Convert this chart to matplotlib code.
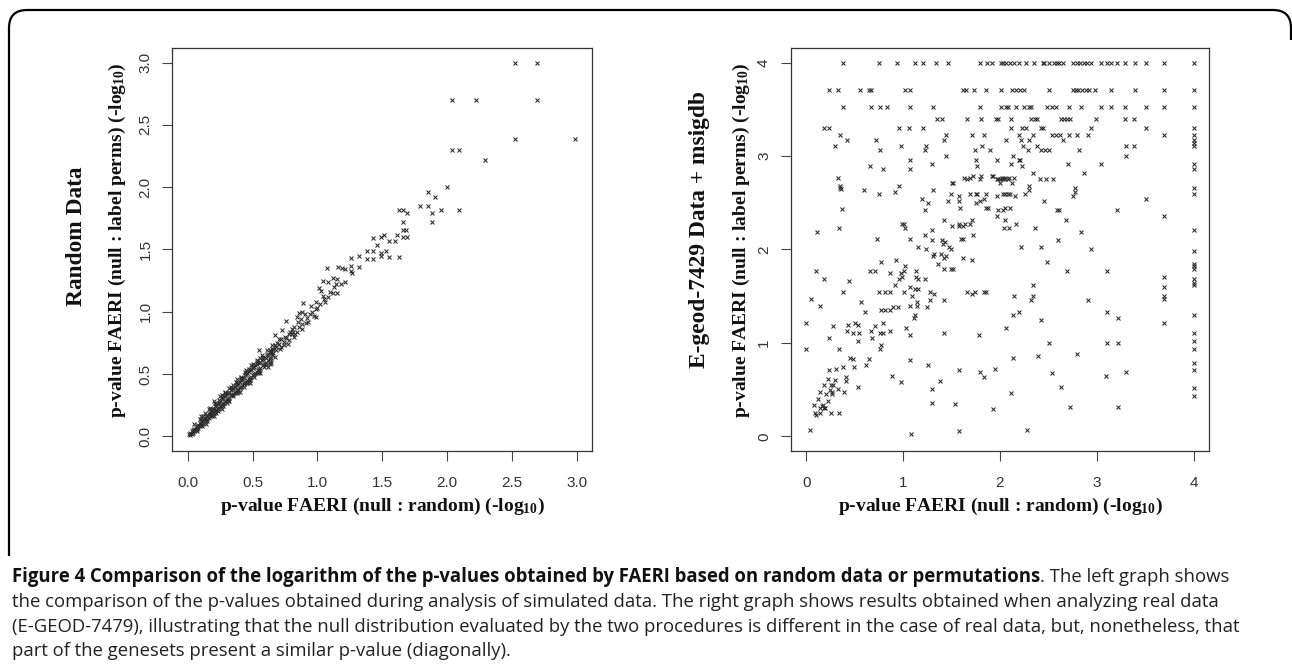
import matplotlib
matplotlib.use('Agg')
import matplotlib.pyplot as plt
from matplotlib.path import Path
from matplotlib.patches import PathPatch
from matplotlib.transforms import Affine2D

W, H = 1292, 668

# mathtext subscripts in the same bold serif as the labels
plt.rcParams['mathtext.fontset'] = 'custom'
plt.rcParams['mathtext.rm'] = 'Liberation Serif:bold'
plt.rcParams['mathtext.it'] = 'Liberation Serif:bold'
plt.rcParams['mathtext.bf'] = 'Liberation Serif:bold'

TICK_FONT = ['Liberation Sans', 'DejaVu Sans']
LABEL_FONT = ['Liberation Serif', 'DejaVu Serif']
CAP_FONT = ['Open Sans', 'DejaVu Sans']

# ---------------- left panel : random data ----------------
left_ticks = [0.0, 0.5, 1.0, 1.5, 2.0, 2.5, 3.0]

# sparse upper part (x, y)
left_sparse = [
    (2.52, 3.00), (2.69, 3.00), (2.04, 2.70), (2.22, 2.70), (2.69, 2.70),
    (2.52, 2.39), (2.99, 2.39), (2.04, 2.30), (2.09, 2.30), (2.29, 2.22),
    (2.00, 2.00), (1.85, 1.96), (1.91, 1.92), (1.79, 1.85), (1.85, 1.85),
    (1.95, 1.82), (2.09, 1.82), (1.63, 1.82), (1.66, 1.82), (1.69, 1.79),
    (1.88, 1.79), (1.66, 1.72), (1.88, 1.72), (1.66, 1.66), (1.68, 1.66),
    (1.66, 1.60), (1.69, 1.60), (1.61, 1.62), (1.43, 1.59), (1.49, 1.60),
    (1.51, 1.62), (1.55, 1.57), (1.60, 1.57), (1.46, 1.54), (1.38, 1.49),
    (1.43, 1.49), (1.38, 1.42), (1.43, 1.42), (1.49, 1.47), (1.53, 1.49),
    (1.55, 1.44), (1.26, 1.43), (1.32, 1.45), (1.63, 1.44), (1.49, 1.45),
    (1.07, 1.35), (1.16, 1.36), (1.19, 1.35), (1.21, 1.34), (1.26, 1.37),
    (1.26, 1.33), (1.27, 1.31), (1.32, 1.36), (1.04, 1.25), (1.08, 1.24),
    (1.12, 1.27), (1.14, 1.22), (1.15, 1.26), (1.21, 1.24), (1.03, 1.17),
    (1.01, 1.19), (1.04, 1.13), (0.99, 1.08), (1.08, 1.12), (1.12, 1.15),
    (1.15, 1.15), (1.06, 1.08), (0.99, 1.02), (0.99, 0.96), (0.89, 1.07),
    (0.95, 1.05), (0.76, 0.93), (0.84, 0.96), (0.86, 0.99), (0.88, 1.00),
    (0.90, 0.98), (0.92, 0.95), (0.91, 0.91), (0.88, 0.90), (0.85, 0.92),
    (0.87, 0.94), (0.82, 0.88), (0.93, 0.92), (0.67, 0.81), (0.73, 0.85),
    (0.76, 0.79), (0.63, 0.69), (0.55, 0.69), (0.63, 0.58), (0.80, 0.86),
    (0.78, 0.82), (0.72, 0.78), (0.70, 0.74), (0.68, 0.72), (0.74, 0.76),
    (0.77, 0.74), (0.82, 0.80), (0.84, 0.84), (0.80, 0.82), (0.71, 0.70),
    (0.66, 0.70), (0.64, 0.67), (0.70, 0.78), (0.72, 0.72), (0.75, 0.80),
    (0.78, 0.77), (0.81, 0.84), (0.83, 0.82), (0.86, 0.88), (0.88, 0.86),
    (0.94, 0.98), (0.96, 1.00), (1.00, 1.03), (1.02, 1.06), (1.05, 1.10),
    (1.10, 1.16), (1.13, 1.20), (1.18, 1.22), (0.79, 0.84), (0.74, 0.73),
    (0.69, 0.75), (0.97, 0.97),
]

# dense band near the diagonal (x, y)
left_band = [
    (0.01, 0.02), (0.02, 0.01), (0.02, 0.03), (0.03, 0.02), (0.03, 0.04),
    (0.04, 0.03), (0.04, 0.05), (0.05, 0.04), (0.05, 0.06), (0.06, 0.05),
    (0.06, 0.07), (0.07, 0.06), (0.07, 0.08), (0.08, 0.07), (0.08, 0.09),
    (0.09, 0.08), (0.09, 0.11), (0.10, 0.09), (0.10, 0.12), (0.11, 0.10),
    (0.11, 0.13), (0.12, 0.11), (0.12, 0.14), (0.13, 0.12), (0.13, 0.15),
    (0.14, 0.13), (0.14, 0.16), (0.15, 0.14), (0.15, 0.17), (0.16, 0.15),
    (0.16, 0.18), (0.17, 0.16), (0.17, 0.19), (0.18, 0.17), (0.18, 0.20),
    (0.19, 0.18), (0.19, 0.21), (0.20, 0.19), (0.20, 0.22), (0.21, 0.20),
    (0.21, 0.24), (0.22, 0.21), (0.22, 0.25), (0.23, 0.22), (0.23, 0.26),
    (0.24, 0.23), (0.24, 0.27), (0.25, 0.24), (0.25, 0.28), (0.26, 0.25),
    (0.26, 0.30), (0.27, 0.26), (0.27, 0.31), (0.28, 0.27), (0.28, 0.32),
    (0.29, 0.28), (0.29, 0.33), (0.30, 0.29), (0.30, 0.34), (0.31, 0.30),
    (0.31, 0.35), (0.32, 0.31), (0.32, 0.36), (0.33, 0.33), (0.33, 0.37),
    (0.34, 0.33), (0.34, 0.38), (0.35, 0.34), (0.35, 0.39), (0.36, 0.35),
    (0.36, 0.40), (0.37, 0.36), (0.37, 0.41), (0.38, 0.37), (0.38, 0.42),
    (0.39, 0.38), (0.39, 0.43), (0.40, 0.39), (0.40, 0.44), (0.41, 0.40),
    (0.41, 0.45), (0.42, 0.41), (0.42, 0.46), (0.43, 0.42), (0.43, 0.47),
    (0.44, 0.43), (0.44, 0.49), (0.45, 0.44), (0.45, 0.50), (0.46, 0.45),
    (0.46, 0.51), (0.47, 0.46), (0.47, 0.52), (0.48, 0.47), (0.48, 0.53),
    (0.49, 0.48), (0.49, 0.54), (0.50, 0.49), (0.50, 0.55), (0.51, 0.50),
    (0.51, 0.56), (0.52, 0.51), (0.52, 0.57), (0.53, 0.52), (0.53, 0.58),
    (0.54, 0.53), (0.55, 0.59), (0.55, 0.54), (0.56, 0.60), (0.56, 0.55),
    (0.57, 0.61), (0.58, 0.57), (0.58, 0.62), (0.59, 0.58), (0.60, 0.63),
    (0.60, 0.59), (0.61, 0.65), (0.62, 0.61), (0.62, 0.66), (0.63, 0.62),
    (0.64, 0.68), (0.64, 0.63), (0.65, 0.70), (0.65, 0.65), (0.66, 0.67),
    (0.67, 0.73), (0.68, 0.69), (0.12, 0.16), (0.18, 0.22), (0.24, 0.29),
    (0.29, 0.35), (0.35, 0.41), (0.41, 0.47), (0.47, 0.54), (0.53, 0.60),
    (0.58, 0.64), (0.22, 0.19), (0.30, 0.27), (0.38, 0.35), (0.46, 0.43),
    (0.54, 0.51), (0.60, 0.57), (0.62, 0.56), (0.48, 0.45),
    (0.05, 0.10), (0.09, 0.14), (0.13, 0.19), (0.17, 0.23), (0.21, 0.27),
    (0.25, 0.32), (0.29, 0.36), (0.33, 0.40), (0.37, 0.44), (0.41, 0.48),
    (0.45, 0.53), (0.49, 0.57), (0.53, 0.61), (0.57, 0.65), (0.61, 0.69),
    (0.65, 0.73), (0.07, 0.04), (0.11, 0.08), (0.15, 0.12), (0.19, 0.16),
    (0.23, 0.20), (0.27, 0.24), (0.31, 0.28), (0.35, 0.32), (0.39, 0.36),
    (0.43, 0.40), (0.47, 0.44), (0.51, 0.48), (0.55, 0.52), (0.59, 0.56),
    (0.63, 0.60), (0.67, 0.64), (0.10, 0.16), (0.16, 0.22), (0.20, 0.28),
    (0.26, 0.33), (0.32, 0.39), (0.38, 0.46), (0.44, 0.52), (0.50, 0.58),
    (0.56, 0.63), (0.14, 0.10), (0.20, 0.16), (0.26, 0.22), (0.32, 0.28),
    (0.40, 0.36), (0.48, 0.43), (0.56, 0.51), (0.64, 0.59),
]

# ---------------- right panel : E-geod-7429 ----------------
right_ticks = [0, 1, 2, 3, 4]

# discrete saturated levels of the permutation p-value
row_400_x = [0.38, 0.75, 0.94, 1.12, 1.21, 1.34, 1.46, 1.79, 1.87, 1.92, 2.01, 2.03,
             2.06, 2.10, 2.14, 2.20, 2.27, 2.35, 2.44, 2.45, 2.51, 2.56, 2.59, 2.61,
             2.65, 2.75, 2.79, 2.83, 2.87, 2.90, 2.94, 3.04, 3.10, 3.15, 3.21, 3.29,
             3.39, 3.51, 3.69, 4.00]
row_371_x = [0.24, 0.33, 0.56, 0.65, 0.67, 1.02, 1.07, 1.62, 1.65, 1.73, 1.86, 2.01,
             2.12, 2.17, 2.21, 2.25, 2.51, 2.75, 2.78, 2.81, 2.85, 2.89, 2.92, 2.98,
             3.15, 3.39, 3.69, 4.00]
row_352_x = [0.38, 0.67, 0.76, 0.83, 1.07, 1.31, 1.79, 2.01, 2.06, 2.08, 2.17, 2.25,
             2.30, 2.32, 2.49, 2.54, 2.58, 2.71, 2.84, 3.04, 3.15, 3.29, 3.51, 3.69, 4.00]
row_340_x = [1.35, 1.40, 1.66, 1.80, 1.96, 1.98, 2.11, 2.32, 2.36, 2.38, 2.63, 2.66,
             2.69, 2.72, 2.99, 3.29, 3.38]
row_330_x = [0.18, 0.24, 0.96, 1.06, 1.21, 2.11, 2.23, 2.27, 2.42, 2.44, 2.94, 3.51, 4.00]
level_y = [4.00, 3.71, 3.52, 3.40, 3.30]

# saturated column of the random-data p-value
col_400_y = [3.23, 3.17, 3.14, 3.11, 2.92, 2.86, 2.66, 2.59, 2.21, 1.98, 1.84, 1.82,
             1.79, 1.68, 1.64, 1.62, 1.30, 1.11, 1.02, 0.93, 0.78, 0.71, 0.52, 0.43]
col_369_y = [3.23, 2.36, 1.71, 1.60, 1.50, 1.47, 1.21]

# remaining scattered genesets (x, y)
right_pts = [
    (0.35, 3.23), (1.44, 3.23), (1.71, 3.23), (1.83, 3.23), (2.20, 3.23), (2.34, 3.23),
    (2.54, 3.23), (2.58, 3.23), (2.62, 3.23), (2.71, 3.23), (2.79, 3.23), (2.91, 3.23),
    (0.42, 3.17), (0.72, 3.17), (1.42, 3.17), (2.06, 3.17), (2.22, 3.17), (2.30, 3.17),
    (2.65, 3.17), (0.30, 3.11), (0.98, 3.11), (1.24, 3.11), (1.81, 3.11), (2.24, 3.11),
    (2.38, 3.11), (3.30, 3.11), (3.38, 3.11), (0.76, 3.06), (1.23, 3.06), (1.74, 3.06),
    (1.90, 3.06), (2.29, 3.06), (2.42, 3.06), (2.46, 3.06), (2.51, 3.06), (2.82, 3.06),
    (1.44, 3.00), (2.13, 3.00), (3.30, 3.00), (1.07, 2.96), (1.75, 2.96), (1.97, 2.96),
    (2.20, 2.96), (2.21, 2.96), (1.30, 2.92), (2.11, 2.92), (2.70, 2.92), (3.04, 2.92),
    (0.66, 2.89), (1.76, 2.89), (2.23, 2.89), (0.79, 2.86), (1.07, 2.86), (2.34, 2.82),
    (2.87, 2.82), (1.72, 2.79), (1.80, 2.79), (1.92, 2.79), (1.93, 2.79), (0.33, 2.77),
    (1.63, 2.77), (1.69, 2.77), (2.02, 2.77), (2.04, 2.77), (2.09, 2.77), (2.14, 2.77),
    (1.66, 2.75), (1.79, 2.75), (1.97, 2.75), (1.98, 2.75), (2.00, 2.75), (2.03, 2.75),
    (2.05, 2.75), (2.08, 2.75), (2.41, 2.75), (2.47, 2.75), (2.55, 2.75), (1.50, 2.71),
    (1.52, 2.71), (2.00, 2.71), (2.12, 2.71), (0.35, 2.68), (0.96, 2.68), (2.30, 2.68),
    (0.35, 2.66), (0.36, 2.65), (2.77, 2.66), (0.60, 2.64), (1.31, 2.64), (2.30, 2.64),
    (0.92, 2.62), (2.77, 2.62), (0.75, 2.59), (1.49, 2.59), (1.69, 2.59), (1.75, 2.59),
    (1.76, 2.59), (1.86, 2.59), (2.03, 2.59), (2.05, 2.59), (2.08, 2.59), (2.10, 2.59),
    (2.26, 2.59), (1.58, 2.57), (1.97, 2.57), (2.15, 2.57), (2.75, 2.57), (1.20, 2.54),
    (1.83, 2.54), (3.51, 2.54), (1.46, 2.52), (1.58, 2.52), (1.79, 2.52), (2.45, 2.52),
    (1.26, 2.50), (1.75, 2.50), (1.59, 2.44), (1.86, 2.44), (1.88, 2.44), (2.05, 2.44),
    (2.10, 2.44), (0.37, 2.43), (1.23, 2.42), (1.98, 2.42), (2.03, 2.42), (2.59, 2.42),
    (2.61, 2.42), (3.21, 2.42), (1.97, 2.36), (1.42, 2.32), (1.71, 2.32), (2.05, 2.32),
    (2.68, 2.32), (0.99, 2.27), (1.01, 2.27), (1.64, 2.27), (1.58, 2.27), (1.69, 2.27),
    (2.17, 2.27), (1.50, 2.25), (1.58, 2.25), (1.62, 2.25), (0.34, 2.23), (1.02, 2.23),
    (2.36, 2.23), (2.04, 2.23), (2.09, 2.23), (1.30, 2.21), (0.11, 2.19), (2.84, 2.19),
    (1.23, 2.16), (1.72, 2.16), (0.73, 2.11), (1.07, 2.11), (1.60, 2.11), (1.62, 2.11),
    (1.30, 2.10), (1.40, 2.10), (2.60, 2.10), (1.43, 2.08), (1.41, 2.06), (1.15, 2.03),
    (1.47, 2.03), (2.22, 2.03), (2.42, 2.03), (1.24, 2.01), (1.49, 2.01), (2.94, 2.01),
    (1.32, 1.95), (1.39, 1.95), (1.31, 1.93), (1.44, 1.93), (1.62, 1.91), (1.42, 1.91),
    (0.93, 1.89), (1.71, 1.89), (0.77, 1.87), (2.49, 1.87), (1.36, 1.84), (1.02, 1.82),
    (1.42, 1.79), (1.49, 1.79), (1.52, 1.79), (0.10, 1.77), (0.66, 1.77), (0.71, 1.77),
    (1.01, 1.77), (1.13, 1.77), (2.69, 1.77), (3.10, 1.77), (0.86, 1.75), (0.98, 1.75),
    (0.99, 1.71), (1.13, 1.71), (0.18, 1.68), (0.96, 1.68), (1.15, 1.68), (1.23, 1.68),
    (0.44, 1.66), (0.92, 1.62), (2.34, 1.62), (1.07, 1.60), (1.12, 1.58), (1.15, 1.58),
    (0.38, 1.54), (0.75, 1.54), (0.81, 1.54), (0.86, 1.54), (1.01, 1.54), (1.28, 1.54),
    (1.66, 1.54), (1.74, 1.54), (1.84, 1.54), (1.86, 1.54), (1.32, 1.52), (1.71, 1.52),
    (1.09, 1.50), (2.14, 1.50), (2.34, 1.50), (0.05, 1.47), (1.28, 1.46), (1.42, 1.46),
    (2.32, 1.46), (2.91, 1.46), (0.57, 1.44), (1.14, 1.44), (0.14, 1.40), (1.07, 1.40),
    (1.14, 1.40), (0.90, 1.38), (0.95, 1.38), (1.25, 1.38), (0.77, 1.35), (0.81, 1.35),
    (0.86, 1.35), (0.61, 1.33), (2.20, 1.33), (3.10, 1.33), (1.12, 1.30), (2.13, 1.30),
    (1.11, 1.27), (3.22, 1.27), (2.42, 1.25), (0.00, 1.21), (0.50, 1.21), (0.79, 1.21),
    (0.53, 1.19), (0.43, 1.19), (0.28, 1.18), (0.71, 1.18), (1.03, 1.16), (2.06, 1.16),
    (0.42, 1.13), (0.67, 1.13), (0.86, 1.13), (0.48, 1.11), (0.54, 1.11), (0.76, 1.11),
    (0.79, 1.11), (1.42, 1.11), (1.07, 1.09), (1.78, 1.09), (0.24, 1.05), (0.68, 1.05),
    (0.53, 1.02), (2.51, 1.00), (3.10, 1.00), (3.22, 1.00), (0.77, 0.98), (0.00, 0.94),
    (0.34, 0.94), (0.76, 0.94), (2.79, 0.88), (2.39, 0.86), (0.45, 0.84), (2.13, 0.84),
    (0.48, 0.83), (0.65, 0.83), (1.07, 0.82), (0.62, 0.76), (1.26, 0.76), (0.38, 0.74),
    (0.49, 0.74), (0.31, 0.72), (1.95, 0.72), (0.24, 0.71), (1.58, 0.71), (1.79, 0.69),
    (3.30, 0.69), (2.54, 0.68), (0.89, 0.65), (3.09, 0.65), (0.41, 0.63), (1.84, 0.63),
    (0.22, 0.61), (0.41, 0.59), (1.38, 0.59), (0.98, 0.58), (0.18, 0.55), (0.26, 0.55),
    (0.53, 0.53), (2.63, 0.53), (1.30, 0.51), (0.33, 0.51), (0.14, 0.48), (0.27, 0.48),
    (0.39, 0.48), (2.11, 0.46), (1.30, 0.36), (1.54, 0.35), (2.72, 0.31), (3.22, 0.31),
    (0.08, 0.34), (0.17, 0.34), (0.14, 0.30), (0.18, 0.30), (0.19, 0.30), (1.93, 0.29),
    (0.09, 0.25), (0.14, 0.25), (0.26, 0.25), (0.34, 0.25), (0.10, 0.23), (0.04, 0.07),
    (2.28, 0.07), (1.58, 0.06), (1.08, 0.02), (0.12, 0.40), (0.20, 0.45), (0.16, 0.32),
    (0.22, 0.38), (0.25, 0.50), (0.28, 0.55), (0.30, 0.60), (0.27, 0.45),
]


def fy(y):
    return 1 - y / H


def style_axes(ax, ticks, fmt, lim):
    ax.set_xlim(lim)
    ax.set_ylim(lim)
    ax.set_xticks(ticks)
    ax.set_yticks(ticks)
    ax.set_xticklabels([fmt % t for t in ticks])
    ax.set_yticklabels([fmt % t for t in ticks], rotation=90, va='center')
    ax.tick_params(axis='both', direction='out', length=7.2, width=0.8,
                   color='#444444', labelcolor='#333333', labelsize=11)
    ax.tick_params(axis='x', pad=10.5)
    ax.tick_params(axis='y', pad=7)
    for lab in ax.get_xticklabels() + ax.get_yticklabels():
        lab.set_fontfamily(TICK_FONT)
    for sp in ax.spines.values():
        sp.set_linewidth(0.9)
        sp.set_color('#333333')


fig = plt.figure(figsize=(W / 100, H / 100), dpi=100)
ax1 = fig.add_axes([172.3 / W, fy(451.3), 420.0 / W, 403.6 / H])
ax2 = fig.add_axes([790.7 / W, fy(451.3), 418.6 / W, 403.6 / H])

mk = dict(ls='none', marker='x', ms=3.4, mew=0.75, color='#2a2a2a')

lx = [p[0] for p in left_sparse + left_band]
ly = [p[1] for p in left_sparse + left_band]
ax1.plot(lx, ly, **mk)
style_axes(ax1, left_ticks, '%.1f', (-0.12, 3.12))

for xs, yv in zip([row_400_x, row_371_x, row_352_x, row_340_x, row_330_x], level_y):
    ax2.plot(xs, [yv] * len(xs), **mk)
ax2.plot([4.0] * len(col_400_y), col_400_y, **mk)
ax2.plot([3.69] * len(col_369_y), col_369_y, **mk)
ax2.plot([p[0] for p in right_pts], [p[1] for p in right_pts], **mk)
style_axes(ax2, right_ticks, '%d', (-0.16, 4.16))

# axis labels (R style, two-line y labels)
xlab = 'p-value FAERI (null : random) (-log$_{10}$)'
ylab = 'p-value FAERI (null : label perms) (-log$_{10}$)'
lab_kw = dict(family=LABEL_FONT, weight='bold', color='#111111')
fig.text(382.3 / W, fy(511), xlab, ha='center', va='baseline', fontsize=14, **lab_kw)
fig.text(1000.0 / W, fy(511), xlab, ha='center', va='baseline', fontsize=14, **lab_kw)
fig.text(117 / W, fy(240), ylab, ha='center', va='center', rotation=90, fontsize=14, **lab_kw)
fig.text(741 / W, fy(240), ylab, ha='center', va='center', rotation=90, fontsize=14, **lab_kw)
fig.text(76 / W, fy(236), 'Random Data', ha='center', va='center', rotation=90,
         fontsize=16.8, **lab_kw)
fig.text(700 / W, fy(230), 'E-geod-7429 Data + msigdb', ha='center', va='center',
         rotation=90, fontsize=16.8, **lab_kw)

# rounded frame around the figure
r = 18
verts = [(9, 556), (9, 10 + r), (9, 10), (9 + r, 10), (1291 - r, 10), (1291, 10), (1291, 10 + r),
         (1291, 40)]
codes = [Path.MOVETO, Path.LINETO, Path.CURVE3, Path.CURVE3, Path.LINETO, Path.CURVE3,
         Path.CURVE3, Path.LINETO]
to_fig = Affine2D().scale(1 / W, -1 / H).translate(0, 1) + fig.transFigure
fig.patches.append(PathPatch(Path(verts, codes), fill=False, lw=1.6, ec='black',
                             transform=to_fig))

# caption
bold_part = ('Figure 4 Comparison of the logarithm of the p-values obtained by FAERI '
             'based on random data or permutations')
lines = [
    '. The left graph shows',
    'the comparison of the p-values obtained during analysis of simulated data. '
    'The right graph shows results obtained when analyzing real data',
    '(E-GEOD-7479), illustrating that the null distribution evaluated by the two '
    'procedures is different in the case of real data, but, nonetheless, that',
    'part of the genesets present a similar p-value (diagonally).',
]
line_y = [577, 602, 627, 651]

renderer = fig.canvas.get_renderer()
# size the caption so that the second line spans the same width as in the figure
probe = fig.text(0, 0, lines[1], fontsize=10, family=CAP_FONT)
w10 = probe.get_window_extent(renderer).width
probe.remove()
cap_size = min(17.0, 10 * (1220 - 12) / w10)

t0 = fig.text(12 / W, fy(line_y[0]), bold_part, ha='left', va='center', fontsize=cap_size,
              family=CAP_FONT, weight='bold', color='#111111')
bb = t0.get_window_extent(renderer)
fig.text(bb.x1 / W, fy(line_y[0]), lines[0], ha='left', va='center', fontsize=cap_size,
         family=CAP_FONT, color='#222222')
for txt, yy in zip(lines[1:], line_y[1:]):
    fig.text(12 / W, fy(yy), txt, ha='left', va='center', fontsize=cap_size,
             family=CAP_FONT, color='#222222')

fig.savefig('out.png', dpi=100)
